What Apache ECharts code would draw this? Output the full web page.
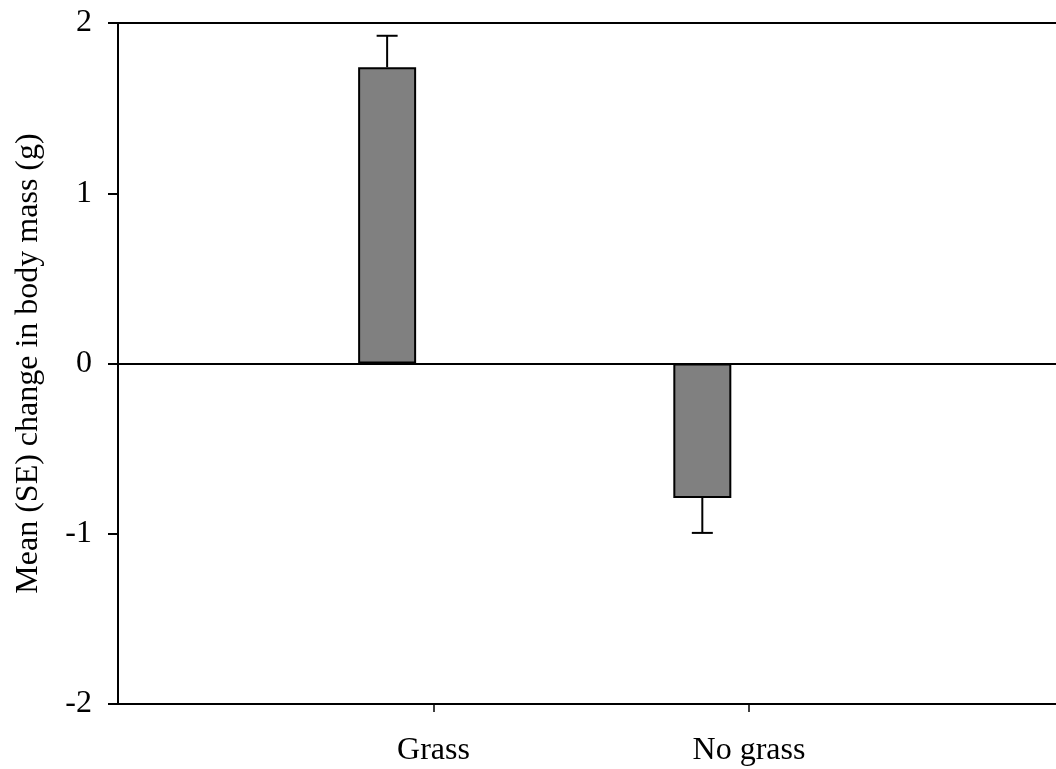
<!DOCTYPE html>
<html>
<head>
<meta charset="utf-8">
<script src="https://cdn.jsdelivr.net/npm/echarts@6/dist/echarts.min.js"></script>
<style>html,body{margin:0;padding:0;background:#fff}#c{width:1056px;height:769px}</style>
</head>
<body>
<div id="c"></div>
<script>
const categories = ['Grass', 'No grass'];
const categoryTicks = [1, 2];
const barX = [0.853, 1.852];
const means = [1.74, -0.79];
const se = [0.185, 0.205];
const yTicks = [-2, -1, 0, 1, 2];

const font = '"Liberation Serif", "Times New Roman", serif';
const chart = echarts.init(document.getElementById('c'));

const barData = means.map((m, i) => [barX[i], m]);
const errData = means.map((m, i) => [barX[i], m, m >= 0 ? m + se[i] : m - se[i]]);

chart.setOption({
  animation: false,
  grid: { left: 118, top: 23, right: 0, bottom: 65 },
  xAxis: [{
    type: 'value', min: 0, max: 2.973, interval: 1,
    splitLine: { show: false },
    axisLine: { show: true, onZero: false, lineStyle: { color: '#000', width: 2 } },
    axisTick: { show: true, customValues: categoryTicks, length: 8, lineStyle: { color: '#000', width: 1.5 } },
    axisLabel: {
      customValues: categoryTicks,
      formatter: v => categories[categoryTicks.indexOf(v)] || '',
      color: '#000', fontFamily: font, fontSize: 32, margin: 31
    }
  }, {
    type: 'value', position: 'top', min: 0, max: 2.973,
    splitLine: { show: false },
    axisLine: { show: true, onZero: false, lineStyle: { color: '#000', width: 2 } },
    axisTick: { show: false }, axisLabel: { show: false }
  }],
  yAxis: {
    type: 'value', min: yTicks[0], max: yTicks[yTicks.length - 1], interval: 1,
    splitLine: { show: false },
    axisLine: { show: true, lineStyle: { color: '#000', width: 2 } },
    axisTick: { show: true, length: 10, lineStyle: { color: '#000', width: 2 } },
    axisLabel: { color: '#000', fontFamily: font, fontSize: 32, margin: 26 },
    name: 'Mean (SE) change in body mass (g)',
    nameLocation: 'middle', nameGap: 73, nameRotate: 90,
    nameTextStyle: { color: '#000', fontFamily: font, fontSize: 32 }
  },
  series: [{
    type: 'custom',
    xAxisIndex: 0,
    data: errData,
    z: 1,
    renderItem: (params, api) => {
      const x = api.value(0);
      const p0 = api.coord([x, api.value(1)]);
      const p1 = api.coord([x, api.value(2)]);
      const style = { stroke: '#000', lineWidth: 2 };
      return {
        type: 'group',
        children: [
          { type: 'line', shape: { x1: p0[0], y1: p0[1], x2: p1[0], y2: p1[1] }, style },
          { type: 'line', shape: { x1: p1[0] - 10.5, y1: p1[1], x2: p1[0] + 10.5, y2: p1[1] }, style }
        ]
      };
    }
  }, {
    type: 'bar',
    xAxisIndex: 0,
    data: barData,
    barWidth: 58,
    z: 2,
    itemStyle: { color: '#808080', borderColor: '#000', borderWidth: 2 },
    markLine: {
      silent: true, symbol: 'none', label: { show: false },
      lineStyle: { color: '#000', width: 2, type: 'solid' },
      data: [{ yAxis: 0 }]
    }
  }]
});
</script>
</body>
</html>
